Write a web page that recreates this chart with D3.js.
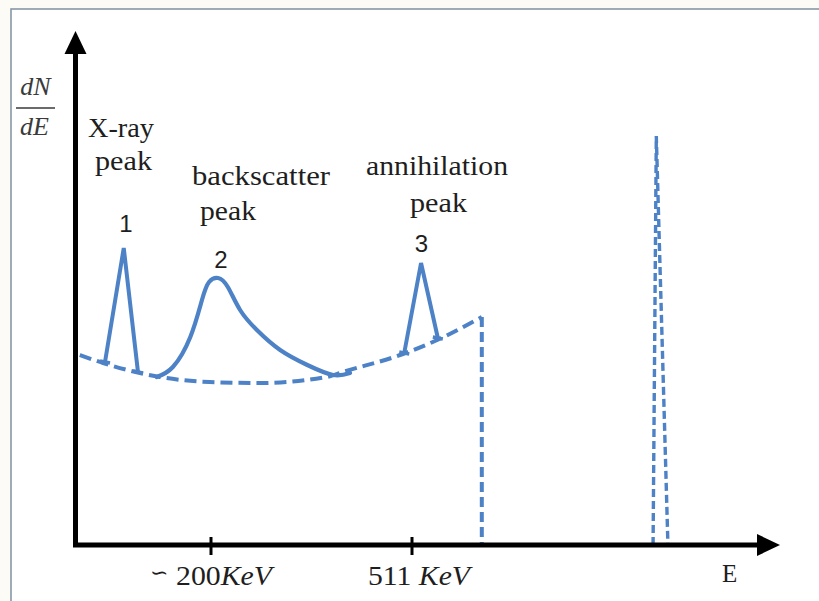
<!DOCTYPE html>
<html>
<head>
<meta charset="utf-8">
<script src="https://cdn.jsdelivr.net/npm/d3@7"></script>
<style>
  html, body { margin: 0; padding: 0; background: #fdfbf6; }
  svg { display: block; }
</style>
</head>
<body>
<svg id="chart" width="819" height="601"></svg>
<script>
// Schematic gamma-ray spectrum: energy (keV) vs dN/dE (arbitrary units)

// Continuum under the peaks (Compton background), ending at the Compton edge
const continuumE = [-3, 33, 90, 121, 198, 276, 379, 404, 497, 550, 619];
const continuumN = [38, 36.4, 34.4, 33.6, 32.6, 32.4, 33.6, 34.6, 38.2, 41, 45.6];

// Peak 1: X-ray peak
const xrayE = [36, 65, 87];
const xrayN = [36.6, 59.4, 34.6];

// Peak 2: backscatter peak
const backE = [116, 141, 168, 186, 197, 211, 226, 245, 271, 307, 349, 389, 415];
const backN = [33.6, 35.6, 41.6, 49, 52.6, 53.4, 51.6, 47, 43, 39, 36, 34, 34.4];

// Peak 3: annihilation peak
const annE = [499, 525, 551];
const annN = [38.4, 56.4, 41.4];

// Compton edge
const comptonEdgeE = 619;
const comptonEdgeN = 45.6;

// Full-energy photopeak (narrow)
const photoE = [884, 889, 907];
const photoN = [0, 81.8, 0];

// Axis ticks
const tickValues = [200, 511];
const tickPrefix = ["\u223D ", ""];
const tickNumbers = ["200", "511"];
const tickUnits = ["KeV", " KeV"];

const blue = "#4d82c6";
const ink = "#1e1e1e";

const svg = d3.select("#chart");

// Frame
svg.append("rect")
  .attr("x", 11).attr("y", 9)
  .attr("width", 830).attr("height", 620)
  .attr("fill", "#ffffff")
  .attr("stroke", "#8797a4")
  .attr("stroke-width", 1.6);

const x = d3.scaleLinear().domain([200, 511]).range([211, 412]);
const y = d3.scaleLinear().domain([0, 100]).range([545, 45]);

const x0 = 75.5, y0 = 545;
const xEnd = 780, yTop = 31;

const zip = (a, b) => a.map((v, i) => [v, b[i]]);
const line = d3.line().x(d => x(d[0])).y(d => y(d[1]));
const smooth = d3.line().x(d => x(d[0])).y(d => y(d[1])).curve(d3.curveMonotoneX);
const soft = d3.line().x(d => x(d[0])).y(d => y(d[1])).curve(d3.curveNatural);

// Continuum (dashed)
svg.append("path")
  .attr("d", smooth(zip(continuumE, continuumN)))
  .attr("fill", "none").attr("stroke", blue)
  .attr("stroke-width", 4).attr("stroke-dasharray", "12,6");

// Compton edge drop
svg.append("path")
  .attr("d", line([[comptonEdgeE, comptonEdgeN], [comptonEdgeE, 0]]))
  .attr("fill", "none").attr("stroke", blue)
  .attr("stroke-width", 4).attr("stroke-dasharray", "10,5");

// Photopeak (dashed, two sides)
svg.append("path")
  .attr("d", line(zip(photoE, photoN)))
  .attr("fill", "none").attr("stroke", blue)
  .attr("stroke-width", 3.4).attr("stroke-dasharray", "8,4");

// Solid peaks
[[xrayE, xrayN], [annE, annN]].forEach(([e, n]) => {
  svg.append("path")
    .attr("d", line(zip(e, n)))
    .attr("fill", "none").attr("stroke", blue)
    .attr("stroke-width", 4).attr("stroke-linejoin", "miter");
  // short feet where the peak meets the continuum
  [0, 2].forEach(i => {
    svg.append("line")
      .attr("x1", x(e[i]) - 5).attr("x2", x(e[i]) + 5)
      .attr("y1", y(n[i]) - 1).attr("y2", y(n[i]) + 1)
      .attr("stroke", blue).attr("stroke-width", 3.5);
  });
});

svg.append("path")
  .attr("d", soft(zip(backE, backN)))
  .attr("fill", "none").attr("stroke", blue)
  .attr("stroke-width", 4.2).attr("stroke-linecap", "round");

// Axes
svg.append("line")
  .attr("x1", x0).attr("y1", y0 + 2).attr("x2", x0).attr("y2", yTop + 15)
  .attr("stroke", "#000").attr("stroke-width", 5);
svg.append("line")
  .attr("x1", x0 - 2.5).attr("y1", y0).attr("x2", xEnd - 15).attr("y2", y0)
  .attr("stroke", "#000").attr("stroke-width", 5);
svg.append("path")
  .attr("d", `M${x0},${yTop} L${x0 - 11},${yTop + 23} L${x0 + 11},${yTop + 23} Z`)
  .attr("fill", "#000");
svg.append("path")
  .attr("d", `M${xEnd},${y0} L${xEnd - 23},${y0 - 11} L${xEnd - 23},${y0 + 11} Z`)
  .attr("fill", "#000");

// Ticks and labels
tickValues.forEach((v, i) => {
  svg.append("line")
    .attr("x1", x(v)).attr("x2", x(v))
    .attr("y1", y0 - 8).attr("y2", y0 + 10)
    .attr("stroke", "#000").attr("stroke-width", 3);
});

const serif = "'Liberation Serif', 'DejaVu Serif', serif";
const sans = "'Liberation Sans', Arial, sans-serif";

const tl = svg.append("g").attr("font-family", serif).attr("fill", ink);
tl.append("text").attr("x", 150).attr("y", 580).attr("font-size", 22).text(tickPrefix[0]);
const t1 = tl.append("text").attr("x", 176).attr("y", 585).attr("font-size", 27)
  .attr("textLength", 96).attr("lengthAdjust", "spacingAndGlyphs");
t1.append("tspan").text(tickNumbers[0]);
t1.append("tspan").attr("font-style", "italic").text(tickUnits[0]);
const t2 = tl.append("text").attr("x", 368).attr("y", 585).attr("font-size", 27)
  .attr("textLength", 102).attr("lengthAdjust", "spacingAndGlyphs");
t2.append("tspan").text(tickNumbers[1]);
t2.append("tspan").attr("font-style", "italic").text(tickUnits[1]);

tl.append("text").attr("x", 722).attr("y", 582).attr("font-size", 25).text("E");

// Y-axis label as fraction dN/dE
const fr = svg.append("g").attr("font-family", serif).attr("fill", "#3a3a3a")
  .attr("font-style", "italic").attr("font-size", 26);
fr.append("text").attr("x", 35.5).attr("y", 95).attr("text-anchor", "middle").text("dN");
fr.append("line").attr("x1", 16).attr("x2", 55).attr("y1", 108).attr("y2", 108)
  .attr("stroke", "#3a3a3a").attr("stroke-width", 1.5);
fr.append("text").attr("x", 34.5).attr("y", 135).attr("text-anchor", "middle").text("dE");

// Peak annotations
const ann = svg.append("g").attr("font-family", serif).attr("fill", ink)
  .attr("font-size", 27);
const label = (txt, x1, x2, yb) => ann.append("text")
  .attr("x", x1).attr("y", yb).attr("textLength", x2 - x1)
  .attr("lengthAdjust", "spacingAndGlyphs").text(txt);
label("X-ray", 88, 154, 137);
label("peak", 95, 152, 170);
label("backscatter", 192, 330, 185);
label("peak", 200, 256, 220);
label("annihilation", 366, 508, 175);
label("peak", 410, 467, 212);

const nums = svg.append("g").attr("font-family", sans).attr("fill", ink)
  .attr("font-size", 24).attr("text-anchor", "middle");
nums.append("text").attr("x", 126).attr("y", 232).text("1");
nums.append("text").attr("x", 221).attr("y", 268).text("2");
nums.append("text").attr("x", 421.5).attr("y", 252).text("3");
</script>
</body>
</html>
